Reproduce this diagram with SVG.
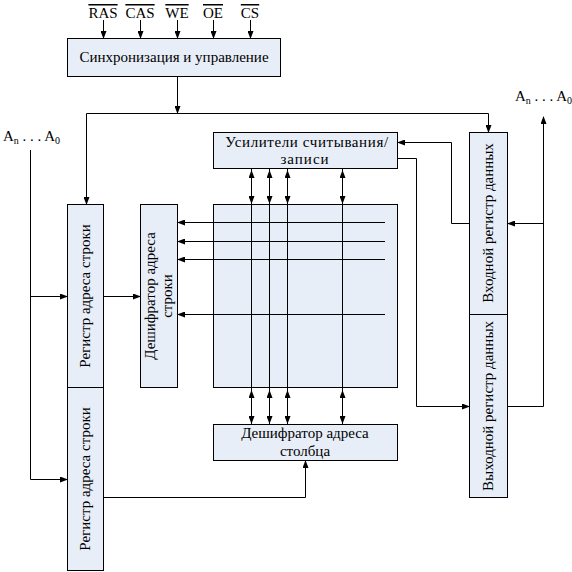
<svg xmlns="http://www.w3.org/2000/svg" width="572" height="572" viewBox="0 0 572 572">
<defs>
<marker id="ah" markerWidth="8" markerHeight="6" refX="7" refY="3" orient="auto-start-reverse" markerUnits="userSpaceOnUse">
<path d="M0,0 L8,3 L0,6 Z" fill="#000"/>
</marker>
</defs>
<style>
.box{fill:#e8eef8;stroke:#000;stroke-width:1}
.t{font-family:"Liberation Serif","Times New Roman",serif;font-size:15px;fill:#000;text-anchor:middle}
.ln{fill:none;stroke:#000;stroke-width:1}
.a{marker-end:url(#ah)}
.b{marker-start:url(#ah);marker-end:url(#ah)}
.ov{text-decoration:overline}
</style>
<rect width="572" height="572" fill="#fff"/>

<g id="signals" font-family="Liberation Serif, serif">
<text class="t ov" x="103" y="18">RAS</text>
<text class="t ov" x="140" y="18">CAS</text>
<text class="t ov" x="177" y="18">WE</text>
<text class="t ov" x="213" y="18">OE</text>
<text class="t ov" x="250" y="18">CS</text>
</g>

<g id="sync">
<rect class="box" x="67.5" y="38.5" width="213" height="38"/>
<text class="t" x="174" y="62">Синхронизация и управление</text>
</g>

<g id="row-reg-1">
<rect class="box" x="67.5" y="204.5" width="36" height="183"/>
<text class="t" transform="translate(90,296) rotate(-90)">Регистр адреса строки</text>
</g>
<g id="row-reg-2">
<rect class="box" x="67.5" y="387.5" width="36" height="183"/>
<text class="t" transform="translate(90,479) rotate(-90)">Регистр адреса строки</text>
</g>
<g id="row-decoder">
<rect class="box" x="140.5" y="204.5" width="37" height="183"/>
<text class="t" transform="translate(155,296) rotate(-90)">Дешифратор адреса</text>
<text class="t" transform="translate(172,296) rotate(-90)">строки</text>
</g>
<g id="sense-amp">
<rect class="box" x="213.5" y="132.5" width="184" height="36"/>
<text class="t" x="307" y="147" letter-spacing="0.6">Усилители считывания/</text>
<text class="t" x="305" y="164" letter-spacing="1">записи</text>
</g>
<g id="array">
<rect class="box" x="213.5" y="204.5" width="184" height="183"/>
</g>
<g id="col-decoder">
<rect class="box" x="213.5" y="424.5" width="184" height="36"/>
<text class="t" x="305" y="438">Дешифратор адреса</text>
<text class="t" x="305" y="456">столбца</text>
</g>
<g id="in-reg">
<rect class="box" x="469.5" y="132.5" width="38" height="182"/>
<text class="t" transform="translate(493,223) rotate(-90)">Входной регистр данных</text>
</g>
<g id="out-reg">
<rect class="box" x="469.5" y="314.5" width="38" height="183"/>
<text class="t" transform="translate(493,406) rotate(-90)">Выходной регистр данных</text>
</g>

<g id="labels">
<text class="t" x="3" y="141" style="text-anchor:start">A<tspan font-size="10" dy="3">n</tspan><tspan dy="-3"> . . . A</tspan><tspan font-size="10" dy="3">0</tspan></text>
<text class="t" x="515" y="101" style="text-anchor:start">A<tspan font-size="10" dy="3">n</tspan><tspan dy="-3"> . . . A</tspan><tspan font-size="10" dy="3">0</tspan></text>
</g>

<g id="connectors">
<path class="ln a" d="M103.5,20 V38"/>
<path class="ln a" d="M140.5,20 V38"/>
<path class="ln a" d="M177.5,20 V38"/>
<path class="ln a" d="M213.5,20 V38"/>
<path class="ln a" d="M250.5,20 V38"/>
<path class="ln a" d="M177.5,77 V113"/>
<path class="ln a" d="M86.5,113.5 V204"/>
<path class="ln a" d="M86.5,113.5 H488.5 V132"/>
<path class="ln" d="M30.5,150 V479.5"/>
<path class="ln a" d="M30.5,296.5 H67"/>
<path class="ln a" d="M30.5,479.5 H67"/>
<path class="ln a" d="M104,296.5 H140"/>
<path class="ln a" d="M104,497.5 H305.5 V461"/>
<path class="ln" d="M190,222.5 H385"/>
<path class="ln" d="M190,241.5 H385"/>
<path class="ln" d="M190,259.5 H385"/>
<path class="ln" d="M190,314.5 H385"/>
<path class="ln a" d="M190,222.5 H178"/>
<path class="ln a" d="M190,241.5 H178"/>
<path class="ln a" d="M190,259.5 H178"/>
<path class="ln a" d="M190,314.5 H178"/>
<path class="ln" d="M251.5,169 V424"/>
<path class="ln" d="M269.5,169 V424"/>
<path class="ln" d="M287.5,169 V424"/>
<path class="ln" d="M342.5,169 V424"/>
<path class="ln b" d="M251.5,171 V203"/>
<path class="ln b" d="M269.5,171 V203"/>
<path class="ln b" d="M287.5,171 V203"/>
<path class="ln b" d="M342.5,171 V203"/>
<path class="ln b" d="M251.5,391 V423"/>
<path class="ln b" d="M269.5,391 V423"/>
<path class="ln b" d="M287.5,391 V423"/>
<path class="ln b" d="M342.5,391 V423"/>
<path class="ln a" d="M469,223.5 H451.5 V142.5 H398"/>
<path class="ln a" d="M398,158.5 H416.5 V406.5 H469"/>
<path class="ln a" d="M543.5,406.5 V117"/>
<path class="ln" d="M508,406.5 H543.5"/>
<path class="ln a" d="M543.5,223.5 H508"/>
</g>
</svg>
